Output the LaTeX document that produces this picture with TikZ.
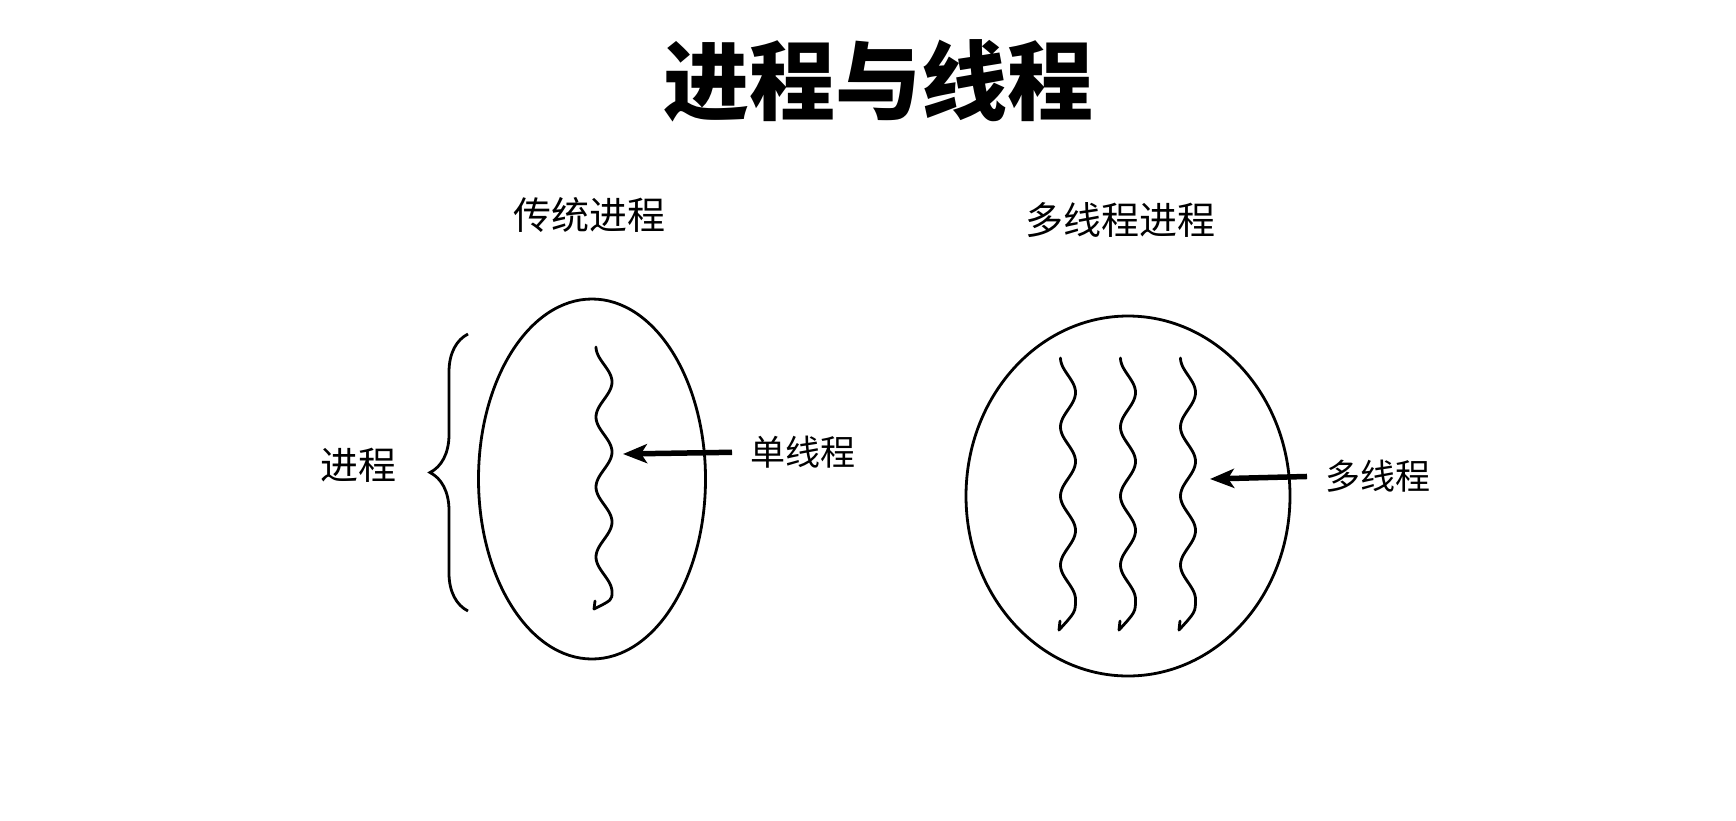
\documentclass[tikz,border=0pt]{standalone}
\usepackage{fontspec}
\newfontfamily\cjk{Noto Sans CJK SC}
\usetikzlibrary{shapes.geometric,arrows.meta,decorations.pathreplacing}
\begin{document}
\begin{tikzpicture}[x=1pt,y=-1pt,
  lbl/.style={font=\cjk\fontsize{38}{38}\selectfont, inner sep=0pt},
  sublbl/.style={font=\cjk\fontsize{35}{35}\selectfont, inner sep=0pt},
  proc/.style={draw, ellipse, line width=2.8pt, inner sep=0pt},
  thread/.style={line width=2.8pt, line cap=round},
  arr/.style={line width=5.5pt, -{Stealth[length=24pt,width=19pt,inset=6pt]}, shorten <=18pt}]
\useasboundingbox (0,0) rectangle (1736,820);
\node[font=\cjk\bfseries\fontsize{86}{86}\selectfont, inner sep=0pt] (title) at (878,81) {进程与线程};
\node[lbl] (trad) at (589,215) {传统进程};
\node[lbl] (multi) at (1120,220) {多线程进程};
% left process
\node[proc, minimum width=227pt, minimum height=360pt] (p1) at (592,479) {};
\node[lbl] (proclbl) at (358,465) {进程};
\draw[line width=2.8pt, decorate, decoration={brace, amplitude=38pt}] (468,611) -- (468,334);
\draw[thread] plot[domain=347:592, samples=120, smooth] ({604-8*cos(5.142857*(\x-347))}, \x) .. controls (612,600) .. (594,609);
\draw[thread] (594,609) -- (595,601);
\node[sublbl, anchor=west] (single) at (750,452) {单线程};
\coordinate (st) at (623,454);
\draw[arr] (single.west) -- (st);
% right process
\node[proc, minimum width=324pt, minimum height=360pt] (p2) at (1128,496) {};
\foreach \c in {1068,1128,1188}{
  \draw[thread] plot[domain=358:599.5, samples=120, smooth] ({\c-7.5*cos(5.217391*(\x-358))}, \x) .. controls (\c+7.5,612) .. (\c-9,630);
  \draw[thread] (\c-9,630) -- (\c-8,621);
}
\node[sublbl, anchor=west] (multi2) at (1325,476) {多线程};
\coordinate (mt) at (1210,479);
\draw[arr] (multi2.west) -- (mt);
\end{tikzpicture}
\end{document}
